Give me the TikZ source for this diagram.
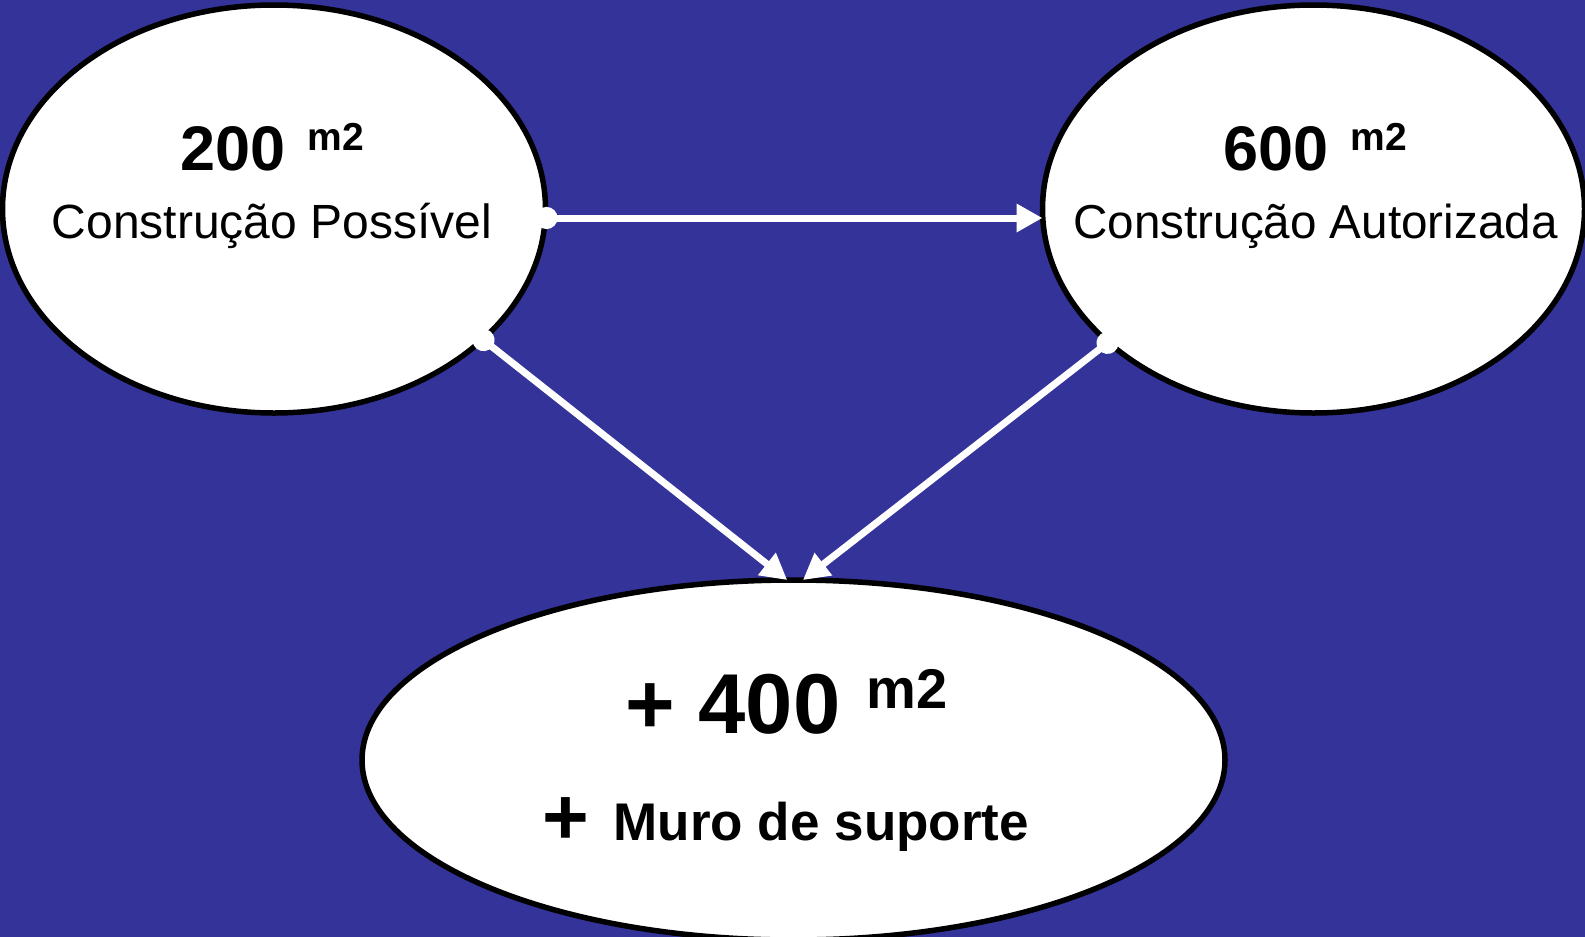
\documentclass[tikz,border=0pt]{standalone}
\usepackage{fontspec}
\setmainfont{Liberation Sans}
\usetikzlibrary{shapes.geometric,arrows.meta}
\definecolor{bgblue}{HTML}{333399}
\begin{document}
\begin{tikzpicture}[x=1pt,y=-1pt,
  bubble/.style={ellipse, draw=black, fill=white, line width=5.5pt, inner sep=0pt, outer sep=0pt},
  link/.style={draw=white, line width=7pt, {Circle[length=22pt]}-{Triangle[length=26pt,width=27pt]}, shorten <=-10pt},
  lbl/.style={anchor=base, inner sep=0pt, text=black}]
\fill[bgblue] (0,0) rectangle (1585,937);
\useasboundingbox (0,0) rectangle (1585,937);
\begin{scope}
\clip (0,0) rectangle (1585,937);
\node[bubble, minimum width=543pt, minimum height=408pt] (L) at (274,209) {};
\node[bubble, minimum width=542pt, minimum height=408pt] (R) at (1313.5,209) {};
\node[bubble, minimum width=863pt, minimum height=360pt] (B) at (793.5,760) {};
\end{scope}
\node[lbl] (Lnum) at (272,170) {\fontsize{63}{70}\selectfont\bfseries 200\hspace{22pt}\raisebox{20pt}{\fontsize{39}{40}\selectfont m2}};
\node[lbl] (Ltxt) at (272,238) {\fontsize{48}{54}\selectfont Construção Possível};
\node[lbl] (Rnum) at (1315.5,170) {\fontsize{63}{70}\selectfont\bfseries 600\hspace{22pt}\raisebox{20pt}{\fontsize{39}{40}\selectfont m2}};
\node[lbl] (Rtxt) at (1315.5,238) {\fontsize{47.6}{54}\selectfont Construção Autorizada};
\node[lbl] (Bnum) at (786.5,733) {\fontsize{85}{90}\selectfont\bfseries + 400\hspace{26pt}\raisebox{25pt}{\fontsize{56}{60}\selectfont m2}};
\node[lbl] (Btxt) at (785.5,840) {\fontsize{53}{60}\selectfont\bfseries \raisebox{-4pt}{\fontsize{80}{80}\selectfont +}\hspace{25pt}Muro de suporte};
\draw[link] ([yshift=-9pt]L.east) -- ([yshift=-9pt]R.west);
\draw[link] (L.-32) -- (B.92.7);
\draw[link] (R.-147.6) -- (B.87.3);
\end{tikzpicture}
\end{document}
